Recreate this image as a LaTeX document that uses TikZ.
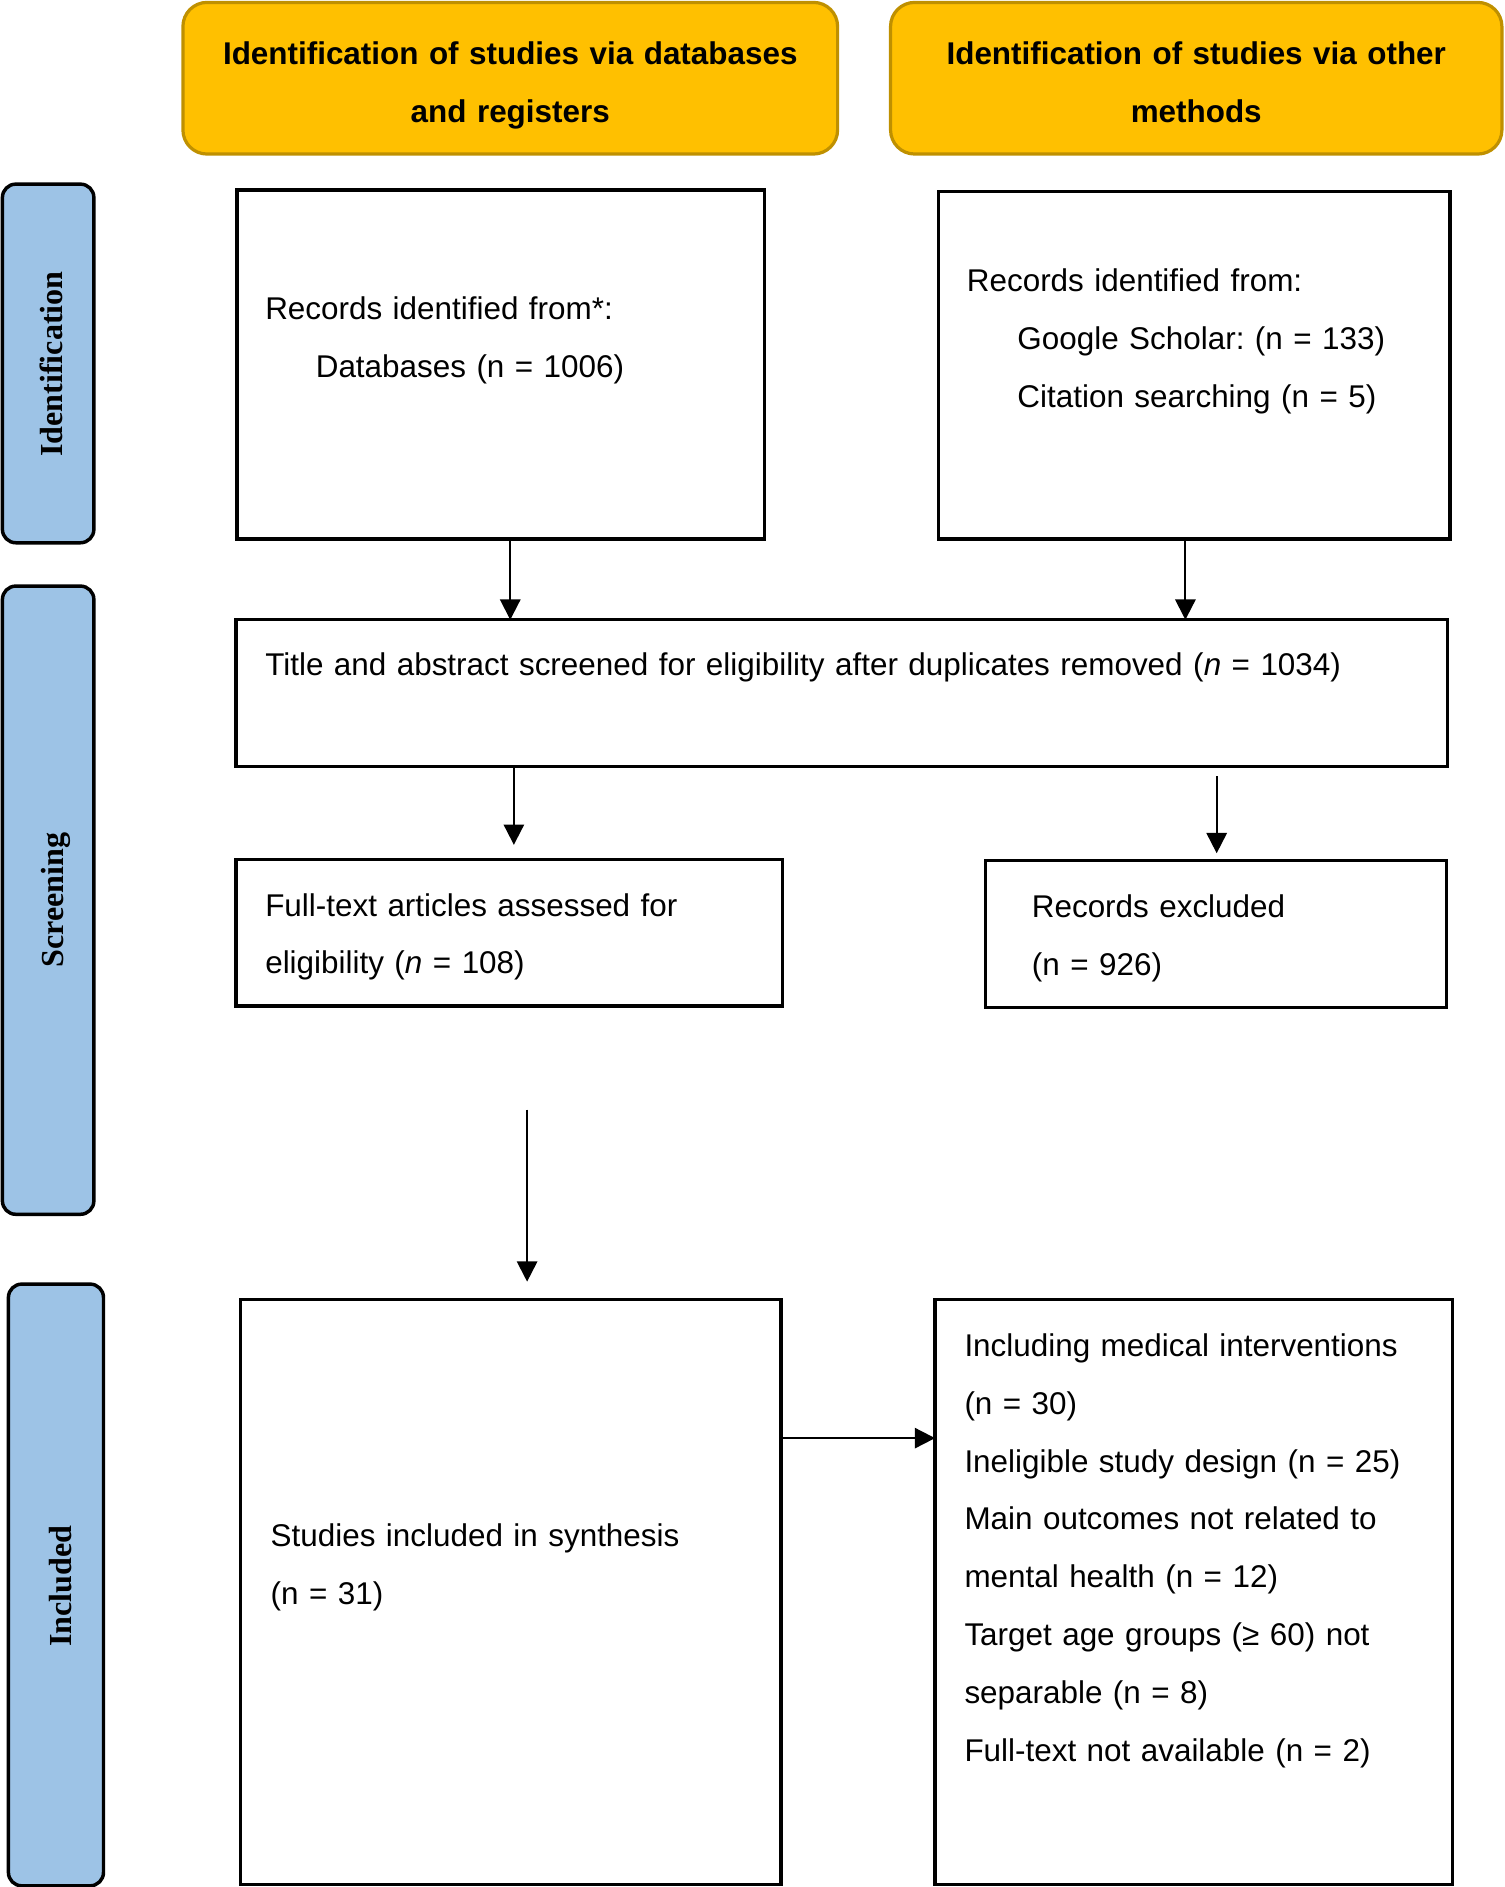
\documentclass[tikz,border=0pt]{standalone}
\usepackage{fontspec}
\setmainfont{Liberation Sans}
\newfontfamily\sidefont{Liberation Serif}
\usetikzlibrary{arrows.meta}
\definecolor{hdrfill}{HTML}{FFC000}
\definecolor{hdrline}{HTML}{BF9000}
\definecolor{sidefill}{HTML}{9DC3E6}
\def\u{0.45pt}
\frenchspacing
\begin{document}
\begin{tikzpicture}[x=\u, y=-\u,
  box/.style={draw=black, line width=1.25pt, inner sep=0pt, outer sep=0pt},
  hdr/.style={draw=hdrline, fill=hdrfill, line width=1.2pt, rounded corners=9pt, inner sep=0pt, outer sep=0pt},
  side/.style={draw=black, fill=sidefill, line width=1.3pt, rounded corners=5pt, inner sep=0pt, outer sep=0pt},
  txt/.style={anchor=base west, inner sep=0pt, align=left, font=\fontsize{11.75}{21.6}\selectfont\frenchspacing},
  hdrtxt/.style={anchor=base, inner sep=0pt, align=center, font=\fontsize{11.75}{21.6}\selectfont\bfseries},
  sidetxt/.style={anchor=base, rotate=90, inner sep=0pt, font=\fontsize{12}{14}\sidefont\bfseries},
  arr/.style={line width=0.75pt, -{Triangle[length=7.6pt, width=7.6pt]}}]
\useasboundingbox (0,0) rectangle (1250,1568);

% headers
\node[hdr, minimum width=544*\u, minimum height=126*\u] (H1) at (424,65) {};
\node[hdr, minimum width=508*\u, minimum height=126*\u] (H2) at (994,65) {};
\node[hdrtxt, text width=540*\u] (H1t) at (424,54) {Identification of studies via databases\\and registers};
\node[hdrtxt, text width=500*\u] (H2t) at (994,54) {Identification of studies via other\\methods};

% side labels
\node[side, minimum width=76*\u, minimum height=298*\u] (L1) at (40,302) {};
\node[side, minimum width=76*\u, minimum height=522*\u] (L2) at (40,748) {};
\node[side, minimum width=79*\u, minimum height=500*\u] (L3) at (46.5,1317) {};
\node[sidetxt] (L1t) at (52,302.5) {Identification};
\node[sidetxt] (L2t) at (52.5,748) {Screening};
\node[sidetxt] (L3t) at (59,1318) {Included};

% boxes
\node[box, minimum width=438*\u, minimum height=290*\u] (A) at (416,303) {};
\node[box, minimum width=425*\u, minimum height=289*\u] (B) at (992.5,303.5) {};
\node[box, minimum width=1007*\u, minimum height=122*\u] (S) at (699.5,576) {};
\node[box, minimum width=454*\u, minimum height=122*\u] (F) at (423,775) {};
\node[box, minimum width=383*\u, minimum height=122*\u] (R) at (1010.5,776) {};
\node[box, minimum width=449*\u, minimum height=486*\u] (I) at (424.5,1323) {};
\node[box, minimum width=430*\u, minimum height=486*\u] (E) at (992,1323) {};

% texts
\node[txt, text width=400*\u] (At) at (220,265.6) {Records identified from*:\\\hspace*{18.9pt}Databases (n = 1006)};
\node[txt, text width=400*\u] (Bt) at (803,242.4) {Records identified from:\\\hspace*{18.9pt}Google Scholar: (n = 133)\\\hspace*{18.9pt}Citation searching (n = 5)};
\node[txt, text width=970*\u] (St) at (220,561.7) {Title and abstract screened for eligibility after duplicates removed (\textit{n} = 1034)};
\node[txt, text width=420*\u] (Ft) at (220,761.3) {Full-text articles assessed for\\eligibility (\textit{n} = 108)};
\node[txt, text width=340*\u] (Rt) at (857,762.2) {Records excluded\\(n = 926)};
\node[txt, text width=420*\u] (It) at (224.5,1285.4) {Studies included in synthesis\\(n = 31)};
\node[txt, text width=400*\u] (Et) at (801,1127.3) {Including medical interventions\\(n = 30)\\Ineligible study design (n = 25)\\Main outcomes not related to\\mental health (n = 12)\\Target age groups (≥ 60) not\\separable (n = 8)\\Full-text not available (n = 2)};

% connector helpers
\coordinate (c1) at (424,0);
\coordinate (c2) at (985,0);
\coordinate (t3) at (427,702);
\coordinate (s4) at (1011,645);
\coordinate (t4) at (1011,709);
\coordinate (s5) at (438,922);
\coordinate (t5) at (438,1065);
\coordinate (c6) at (0,1195);

% connectors
\draw[arr] (A.south -| c1) -- (S.north -| c1);
\draw[arr] (B.south -| c2) -- (S.north -| c2);
\draw[arr] (S.south -| t3) -- (t3);
\draw[arr] (s4) -- (t4);
\draw[arr] (s5) -- (t5);
\draw[arr] (I.east |- c6) -- (E.west |- c6);
\end{tikzpicture}
\end{document}
